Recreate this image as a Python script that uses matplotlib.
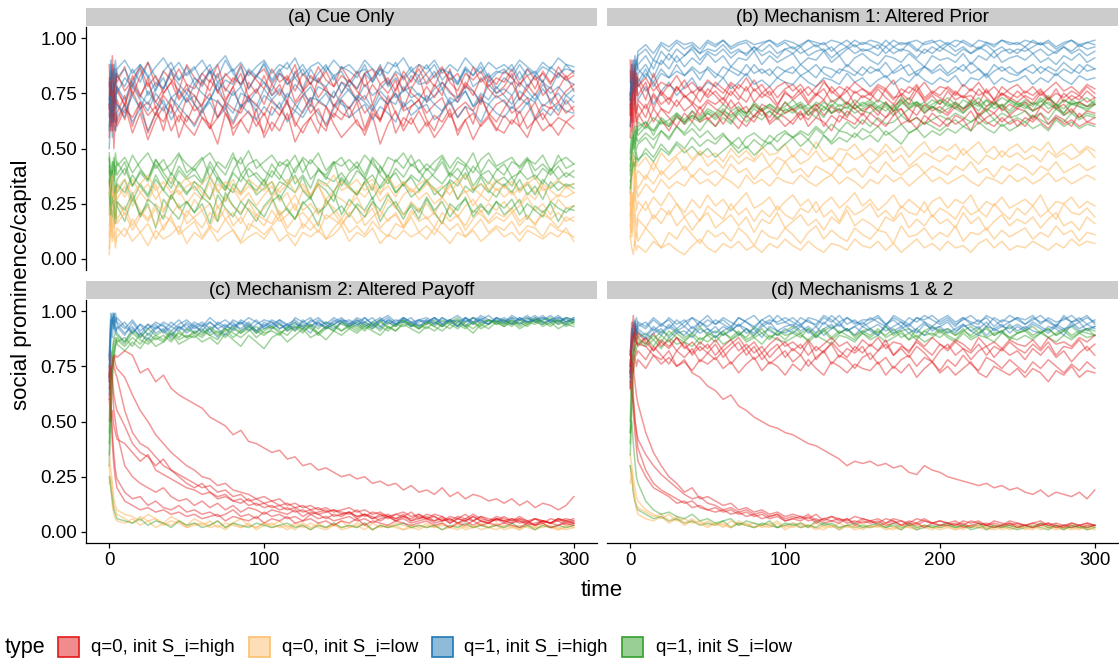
import numpy as np
import matplotlib
matplotlib.use("Agg")
import matplotlib.pyplot as plt
from matplotlib.patches import Rectangle

plt.rcParams['font.family'] = ['Liberation Sans', 'DejaVu Sans']

TIME = [0, 1, 2, 3, 4] + list(range(5, 301, 5))

TITLES = ["(a) Cue Only", "(b) Mechanism 1: Altered Prior",
          "(c) Mechanism 2: Altered Payoff", "(d) Mechanisms 1 & 2"]
TYPES = ["q=0, init S_i=high", "q=0, init S_i=low", "q=1, init S_i=high", "q=1, init S_i=low"]
COLORS = ["#E31A1C", "#FDBF6F", "#1F78B4", "#33A02C"]

# panel (a)
A_RED = [
    "72 85 64 80 70 | 78 69 83 74 80 71 77 86 73 79 | 70 81 76 84 72 78 68 80 75 83 | 74 79 71 85 77 69 82 76 73 80 | 78 72 84 70 79 75 81 68 77 83 | 71 79 74 86 73 80 76 70 82 75 | 78 84 72 79 74 81 70 77 83 76",
    "55 78 62 70 58 | 66 74 60 71 65 69 58 73 67 62 | 70 64 59 72 66 61 68 74 63 57 | 69 65 72 60 67 73 62 58 70 66 | 64 71 59 68 62 74 66 60 69 72 | 63 58 67 71 64 69 61 73 66 62 | 68 74 60 66 71 63 69 65 72 67",
    "80 60 72 50 66 | 62 70 57 66 54 63 69 58 65 60 | 56 64 61 52 66 59 63 57 68 55 | 62 58 66 53 60 64 57 69 61 55 | 59 63 56 65 52 61 67 58 64 57 | 62 55 60 66 58 63 54 61 65 59 | 57 63 60 55 64 58 61 56 62 59",
    "88 70 92 76 84 | 80 87 74 83 89 78 85 81 76 88 | 82 79 86 75 84 80 88 77 83 86 | 79 84 81 88 76 83 80 85 78 87 | 81 77 84 86 79 82 76 85 80 88 | 83 78 86 81 84 77 87 80 83 79 | 85 82 78 86 81 84 79 87 82 85",
    "65 74 58 79 68 | 72 63 76 68 71 65 74 69 62 73 | 67 70 75 64 71 68 66 73 70 65 | 72 68 63 70 74 66 71 69 64 72 | 68 73 66 70 63 71 75 67 69 72 | 66 70 73 64 68 71 67 74 65 70 | 72 66 69 73 64 70 68 71 66 69",
    "68 80 74 62 86 | 76 70 79 73 82 68 75 80 72 77 | 74 69 81 76 71 78 84 73 77 70 | 79 74 82 71 76 80 73 78 69 75 | 81 76 72 79 74 70 77 83 75 72 | 78 73 80 76 71 79 74 82 77 73 | 75 80 72 77 83 74 78 71 76 79",
    "70 58 76 63 72 | 60 68 64 71 57 66 62 70 55 65 | 61 68 59 64 70 56 63 67 60 66 | 58 65 71 62 57 64 68 60 66 63 | 69 61 58 66 63 70 57 64 61 67 | 60 65 62 68 56 63 66 60 64 58 | 65 61 67 59 63 66 60 64 62 65",
    "82 74 88 70 80 | 84 76 81 87 78 83 75 80 86 79 | 77 84 80 88 76 82 79 85 81 77 | 86 80 83 76 84 79 87 81 78 83 | 80 85 78 82 87 79 84 76 81 86 | 79 83 87 80 76 84 81 85 78 82 | 80 86 79 83 77 85 80 84 81 83",
]
A_ORANGE = [
    "20 35 28 22 32 | 27 33 24 30 26 34 22 29 31 25 | 30 27 35 23 28 32 26 30 24 29 | 33 26 30 22 31 28 34 25 29 27 | 24 31 28 33 26 30 23 29 32 27 | 30 25 28 34 27 31 24 29 26 32 | 28 31 25 30 27 33 26 29 28 30",
    "10 25 18 14 22 | 18 24 15 21 17 23 13 20 25 16 | 19 22 14 24 18 21 16 23 19 15 | 22 17 20 25 14 19 23 18 21 16 | 20 24 15 19 22 17 21 14 20 23 | 18 21 16 24 19 15 22 20 17 21 | 19 23 17 20 15 22 18 21 17 19",
    "02 15 08 12 05 | 10 14 08 12 06 13 09 11 15 07 | 12 09 14 08 11 13 07 10 12 09 | 14 08 11 06 12 10 13 09 11 15 | 08 12 10 14 07 11 09 13 10 12 | 09 14 11 07 12 10 13 08 11 14 | 10 12 08 13 11 09 12 10 14 08",
    "30 38 26 34 31 | 33 28 36 30 34 27 32 37 29 33 | 35 30 27 34 31 36 29 33 30 35 | 28 32 36 30 34 29 33 27 31 35 | 32 29 34 36 30 33 28 35 31 30 | 34 31 28 33 36 30 32 29 35 31 | 33 29 32 35 30 34 31 28 33 30",
    "15 22 10 18 25 | 16 21 13 19 24 15 20 17 12 22 | 18 14 21 17 23 15 19 13 20 18 | 16 22 14 19 21 17 12 20 18 15 | 21 16 19 23 14 18 20 15 22 17 | 19 14 21 17 20 13 18 22 16 19 | 17 21 15 19 16 20 18 14 19 17",
    "25 12 30 18 22 | 26 20 28 22 18 25 21 29 23 19 | 27 22 25 19 28 24 21 26 20 23 | 27 19 24 29 22 25 20 26 23 18 | 24 28 21 25 19 27 23 20 26 22 | 25 20 28 23 19 24 27 21 25 22 | 26 21 24 28 22 25 20 27 23 24",
    "05 18 12 20 08 | 14 10 18 12 16 09 15 19 11 14 | 17 10 15 12 18 13 08 16 14 11 | 15 19 12 10 16 13 17 09 14 18 | 12 15 11 17 13 10 16 14 19 12 | 15 11 17 13 16 10 14 18 12 15 | 13 17 11 15 14 10 16 13 12 10",
    "28 34 38 30 26 | 32 36 29 34 38 31 35 30 33 37 | 31 34 38 30 35 32 29 36 33 31 | 35 30 34 37 32 29 35 33 38 31 | 33 36 31 34 29 37 32 35 30 34 | 36 31 33 29 35 38 32 34 31 36 | 32 35 30 34 37 31 33 36 32 34",
]
A_BLUE = [
    "70 82 75 88 79 | 83 78 86 80 89 82 77 85 81 87 | 79 84 88 80 83 86 78 85 82 89 | 81 86 79 84 88 82 80 87 83 85 | 78 84 86 81 88 79 85 82 87 80 | 84 88 81 85 79 86 83 87 80 84 | 86 82 88 83 85 80 87 84 86 85",
    "60 72 55 68 76 | 70 64 78 72 67 75 70 66 77 71 | 74 68 72 79 70 66 75 73 69 77 | 72 76 70 67 74 78 71 75 69 73 | 77 71 74 68 76 72 70 78 73 75 | 71 74 77 70 73 76 69 75 72 78 | 74 70 76 73 71 77 72 75 70 74",
    "50 66 72 60 58 | 64 70 62 68 58 66 72 63 69 65 | 60 67 71 64 68 62 70 66 63 69 | 65 71 62 67 64 70 66 61 68 72 | 64 67 70 63 69 66 62 71 65 68 | 70 63 66 72 64 69 67 62 70 66 | 64 69 66 71 63 68 65 70 67 66",
    "78 88 72 84 90 | 82 86 79 88 83 76 85 89 81 84 | 87 80 85 82 90 84 79 86 83 88 | 80 85 89 82 86 79 84 88 81 87 | 85 82 88 80 86 84 89 81 85 83 | 88 82 86 84 80 87 83 89 82 85 | 84 88 81 86 83 87 85 82 88 84",
    "68 80 62 74 70 | 78 72 80 74 70 77 82 73 76 71 | 79 75 72 80 77 74 78 71 76 80 | 74 77 73 79 75 71 78 76 73 80 | 76 72 79 74 77 81 73 76 78 74 | 72 77 80 75 73 78 76 71 79 75 | 77 74 80 76 72 79 75 78 74 77",
    "64 76 84 70 80 | 75 82 78 86 74 80 77 84 79 75 | 82 78 85 76 81 79 87 77 83 80 | 76 84 79 82 77 86 80 78 83 75 | 81 77 84 80 86 78 82 76 83 79 | 80 85 77 82 79 86 78 81 84 77 | 82 79 85 78 83 80 77 84 81 79",
    "58 74 66 80 62 | 70 66 74 68 76 71 67 73 69 75 | 70 66 73 71 68 76 69 72 67 74 | 71 68 75 70 66 73 72 69 76 70 | 68 74 71 67 73 70 75 69 72 68 | 74 70 67 73 71 76 69 72 70 74 | 71 68 73 70 75 69 72 67 74 71",
    "72 90 82 86 78 | 86 90 84 88 82 87 91 85 89 83 | 86 90 84 88 92 85 89 83 87 90 | 84 88 86 91 83 87 89 85 90 86 | 88 84 90 86 83 89 87 91 85 88 | 86 90 84 88 85 91 87 84 89 86 | 88 85 90 87 84 89 86 91 88 87",
]
A_GREEN = [
    "45 30 40 35 42 | 38 44 33 40 36 45 39 34 42 37 | 41 35 44 38 32 40 46 37 39 35 | 43 38 34 41 45 36 40 38 44 33 | 39 42 36 45 38 34 41 37 43 40 | 35 39 44 37 41 36 42 38 34 40 | 43 37 39 45 36 41 38 42 37 40",
    "40 25 35 28 33 | 30 36 26 34 29 38 31 27 35 30 | 33 28 37 31 26 34 30 36 29 32 | 35 27 33 30 37 28 34 31 26 36 | 32 29 35 27 33 38 30 34 28 31 | 36 29 32 35 27 33 30 37 31 28 | 34 30 36 29 33 27 35 31 34 32",
    "30 15 22 18 28 | 24 17 28 20 25 14 27 22 18 26 | 21 25 16 29 23 19 26 22 17 24 | 28 20 23 18 26 22 15 27 21 24 | 19 25 22 28 17 23 26 20 24 18 | 27 21 16 25 22 28 19 24 21 26 | 20 23 27 18 24 21 25 17 23 22",
    "48 35 42 46 38 | 44 38 47 41 36 45 40 43 48 39 | 42 46 37 44 41 48 38 43 45 40 | 37 44 42 47 39 45 41 36 43 46 | 40 44 38 46 42 37 45 41 47 39 | 43 40 46 38 44 42 48 39 45 41 | 38 44 42 46 40 43 39 47 41 43",
    "36 28 40 32 26 | 34 30 38 33 28 36 31 39 34 29 | 35 32 27 37 33 30 38 34 31 36 | 29 35 33 38 31 27 36 34 30 37 | 33 29 35 38 32 36 30 34 37 31 | 35 32 28 36 33 39 31 34 30 35 | 33 37 31 34 29 36 32 35 33 34",
    "42 32 38 44 30 | 36 41 33 39 35 43 37 32 40 36 | 38 34 42 36 31 39 35 41 37 33 | 40 36 43 34 38 32 41 37 35 39 | 34 40 37 31 42 36 39 33 38 35 | 41 37 34 39 36 42 33 38 40 35 | 37 33 40 36 38 34 41 36 39 37",
    "35 20 28 24 16 | 26 22 30 19 27 24 18 29 23 26 | 21 28 25 17 30 24 20 27 23 19 | 26 29 22 18 25 28 21 24 30 20 | 27 23 19 26 22 29 24 18 25 21 | 28 22 26 19 24 27 21 25 20 26 | 23 27 20 25 22 19 26 23 21 24",
    "46 38 44 40 48 | 42 46 39 44 48 41 45 38 47 43 | 40 45 48 42 38 46 43 49 41 44 | 47 42 45 39 46 43 48 40 44 42 | 45 41 47 43 39 46 44 48 42 45 | 40 44 47 41 46 43 39 45 48 42 | 44 46 41 45 43 47 40 44 46 43",
]

# panel (b)
B_RED = [
    "90 65 82 70 78 | 74 80 68 76 72 78 74 70 77 73 | 76 72 79 74 71 77 73 76 70 75 | 73 77 71 75 72 78 74 70 76 73 | 75 71 77 73 74 70 76 72 75 73 | 71 76 73 74 70 77 72 75 73 71 | 74 72 76 73 70 75 72 74 71 73",
    "55 72 62 80 66 | 70 64 74 68 66 72 67 70 65 71 | 68 66 72 67 69 64 70 68 66 71 | 67 70 65 69 72 66 68 64 70 67 | 69 65 71 67 68 63 70 66 69 67 | 65 69 67 71 64 68 66 70 65 68 | 67 63 69 66 70 65 68 64 67 66",
    "80 88 75 85 78 | 82 76 80 74 79 76 81 75 78 74 | 80 77 74 79 76 81 75 78 73 77 | 79 75 78 74 80 76 73 78 75 77 | 74 78 76 72 77 75 79 73 76 74 | 78 75 73 77 74 76 72 78 75 73 | 76 74 77 72 75 73 76 74 78 75",
    "60 70 55 68 62 | 66 60 68 63 58 65 61 67 62 64 | 60 66 63 59 65 62 68 61 64 60 | 63 67 60 64 62 58 65 63 61 66 | 62 60 64 67 61 63 59 65 62 60 | 64 61 63 58 66 62 60 64 61 63 | 60 65 62 59 64 61 63 60 62 61",
    "75 62 85 70 66 | 72 68 75 70 73 69 74 71 68 72 | 70 73 68 71 66 70 67 64 69 66 | 68 63 67 70 65 69 66 71 68 65 | 70 67 64 69 72 68 65 70 67 69 | 66 71 68 70 65 69 72 67 70 68 | 71 67 69 73 68 70 66 71 69 70",
    "85 70 78 88 74 | 80 72 84 75 70 78 73 76 71 77 | 74 70 76 72 78 71 75 73 69 76 | 72 75 70 74 77 71 73 76 70 74 | 72 77 73 70 75 72 78 71 74 70 | 76 72 74 71 77 73 70 75 72 76 | 73 70 75 72 77 71 74 72 76 73",
    "70 58 66 74 60 | 64 70 62 68 64 60 66 62 69 63 | 66 61 67 63 60 65 68 62 66 64 | 61 66 63 68 60 65 62 67 64 61 | 66 63 60 65 68 62 64 61 66 63 | 60 65 63 67 61 64 66 62 65 60 | 64 62 66 61 65 63 60 66 62 64",
    "65 80 90 76 84 | 78 82 76 80 78 83 77 80 76 81 | 78 75 80 77 82 76 79 74 78 80 | 76 79 74 78 81 75 78 76 80 77 | 75 79 77 81 74 78 76 80 75 78 | 77 74 79 76 80 75 78 74 77 79 | 75 78 74 77 80 76 78 75 79 77",
]
B_ORANGE = [
    "20 35 45 30 38 | 40 36 44 38 42 46 40 44 48 42 | 45 41 47 43 46 44 48 42 46 44 | 47 43 45 49 44 46 42 48 45 47 | 43 46 49 44 47 42 45 48 46 44 | 47 45 50 46 43 47 45 49 46 48 | 45 47 44 49 46 48 45 47 50 46",
    "25 18 30 22 15 | 20 26 18 23 20 25 19 22 17 24 | 21 18 25 20 23 17 22 19 24 20 | 18 23 21 26 19 22 17 24 20 22 | 25 19 22 18 24 21 20 26 19 23 | 21 18 24 20 22 19 25 21 18 23 | 20 24 19 22 18 25 21 20 23 19",
    "15 30 25 40 35 | 32 38 34 40 36 39 42 37 41 38 | 40 37 43 39 41 36 40 42 38 44 | 39 41 37 42 40 38 43 39 41 37 | 42 39 44 40 38 41 43 39 42 40 | 38 42 40 44 39 41 37 42 40 43 | 41 38 42 40 44 39 41 43 40 42",
    "15 10 20 06 12 | 08 14 10 05 12 09 15 11 07 13 | 10 12 08 14 11 06 13 10 09 14 | 11 07 12 15 09 13 10 08 14 11 | 09 13 12 07 15 10 11 14 09 12 | 10 15 08 12 11 14 09 13 10 12 | 14 09 12 10 15 11 13 08 12 11",
    "10 22 30 26 33 | 28 34 30 36 32 35 33 38 34 36 | 33 37 35 32 38 34 36 33 37 35 | 34 38 35 33 36 38 34 37 35 32 | 36 34 38 35 37 33 36 39 35 37 | 34 36 38 35 33 37 36 34 38 35 | 37 34 36 39 35 37 34 36 38 36",
    "10 05 02 08 04 | 06 03 08 05 07 04 02 06 09 05 | 03 07 05 08 04 06 03 07 05 09 | 06 04 08 05 03 07 06 04 09 06 | 05 08 04 07 03 06 09 05 07 04 | 08 05 06 03 07 09 05 08 04 06 | 05 08 06 04 07 05 09 06 08 07",
    "25 40 48 36 44 | 42 46 40 48 44 47 50 45 49 46 | 48 44 50 46 49 45 51 47 48 52 | 46 50 47 53 48 45 50 49 52 47 | 50 47 52 48 51 46 50 53 48 51 | 49 52 47 50 53 48 51 46 50 52 | 48 51 49 53 47 50 52 48 51 49",
    "20 12 25 16 10 | 18 14 20 16 22 15 19 13 18 21 | 14 17 20 15 19 12 18 16 21 14 | 17 20 15 18 13 19 16 22 15 18 | 16 13 19 17 21 14 18 15 20 16 | 18 14 21 16 19 13 17 20 15 18 | 16 19 14 18 21 15 17 13 19 16",
    "30 20 28 35 22 | 26 22 28 24 30 25 21 27 23 29 | 24 27 22 26 30 23 25 28 22 26 | 29 24 27 21 25 28 23 26 30 24 | 27 22 25 29 23 27 24 21 26 28 | 23 27 25 29 22 26 24 28 23 25 | 27 24 29 22 26 25 28 23 26 24",
]
B_BLUE = [
    "70 85 78 90 86 | 92 95 90 97 94 98 95 97 93 98 | 96 99 95 97 98 94 97 99 96 98 | 95 97 99 96 98 94 97 99 96 98 | 97 95 99 96 98 97 94 98 99 96 | 98 96 99 97 95 98 96 99 97 98 | 96 99 97 98 95 97 99 96 98 97",
    "65 80 72 86 78 | 84 88 82 90 86 92 87 91 88 93 | 89 92 87 91 90 94 88 92 89 91 | 93 88 91 90 94 89 92 87 91 93 | 90 88 92 91 89 93 90 87 92 90 | 91 89 93 88 92 90 94 89 91 92 | 90 93 89 91 88 92 90 93 89 91",
    "75 70 82 76 84 | 80 86 78 84 82 88 83 86 81 87 | 84 82 87 85 83 88 84 86 82 85 | 87 83 85 88 84 82 86 85 83 87 | 84 86 82 85 88 83 85 87 84 86 | 83 85 88 84 86 82 85 87 84 83 | 86 84 87 85 83 86 84 88 85 86",
    "60 78 68 74 80 | 72 78 70 76 80 74 78 82 76 80 | 78 82 77 80 84 79 81 78 82 80 | 79 83 80 78 82 81 79 84 80 82 | 78 81 83 79 82 80 84 81 79 82 | 80 83 78 82 81 84 79 82 80 81 | 83 79 82 80 84 81 79 83 81 82",
    "72 88 80 84 90 | 86 82 90 88 93 89 92 95 90 94 | 92 95 91 94 93 96 92 94 91 95 | 93 96 92 94 95 91 94 96 93 95 | 94 92 96 93 95 94 91 95 93 96 | 94 92 95 93 96 94 91 94 95 93 | 96 93 95 92 94 96 93 95 92 94",
    "68 82 76 88 84 | 88 92 86 94 90 95 92 96 93 95 | 94 97 93 95 92 96 94 97 93 95 | 96 93 95 97 94 96 92 95 97 94 | 95 97 93 96 94 98 95 93 96 94 | 97 94 96 93 95 97 94 96 93 95 | 94 96 98 95 93 96 94 97 95 96",
    "72 76 84 78 82 | 78 84 80 86 82 85 83 87 84 86 | 82 87 85 83 88 84 86 83 87 85 | 84 88 85 82 87 86 84 88 85 83 | 87 85 89 84 86 88 83 87 85 88 | 84 87 85 89 86 83 88 85 87 84 | 86 88 84 87 85 89 86 84 88 86",
    "74 90 84 92 88 | 94 97 93 98 96 99 97 98 95 99 | 97 99 96 98 99 97 98 99 97 99 | 98 96 99 98 97 99 98 96 99 97 | 99 98 96 99 97 98 99 97 98 99 | 97 99 98 96 99 98 97 99 98 97 | 99 98 97 99 96 98 99 97 98 99",
]
B_GREEN = [
    "40 50 55 52 58 | 56 60 58 62 60 64 62 65 63 66 | 64 67 65 68 66 69 67 70 68 67 | 69 71 68 70 67 72 69 71 68 70 | 72 69 71 67 70 73 69 71 68 72 | 70 68 72 70 73 69 71 68 72 70 | 71 69 73 70 68 72 70 71 69 72",
    "30 42 48 45 50 | 52 55 50 58 54 60 57 62 58 63 | 60 64 61 66 62 65 63 67 64 66 | 68 65 67 64 69 66 68 65 70 67 | 66 69 67 70 65 68 71 67 69 66 | 68 70 66 69 71 67 70 68 66 69 | 70 67 69 71 68 66 70 69 67 70",
    "35 38 45 40 48 | 44 50 46 52 48 53 50 55 51 54 | 52 56 53 50 55 57 54 52 56 58 | 55 57 54 59 56 53 58 57 55 59 | 57 60 56 58 61 57 59 62 60 58 | 61 63 60 62 64 61 63 60 62 64 | 62 65 63 61 64 62 66 63 65 64",
    "45 55 50 58 54 | 60 62 58 64 61 66 63 67 64 68 | 66 70 67 69 65 71 68 70 67 69 | 72 68 70 67 71 69 73 70 68 71 | 69 72 70 68 73 70 71 69 72 70 | 73 70 68 71 69 72 70 73 71 69 | 72 70 71 74 69 72 70 71 73 70",
    "38 46 52 48 55 | 53 57 54 58 55 60 56 59 55 58 | 54 57 52 55 50 54 51 56 53 57 | 55 58 56 60 57 61 58 62 59 63 | 60 64 61 62 65 62 64 61 63 65 | 63 66 64 62 65 67 63 66 64 65 | 67 64 66 63 68 65 67 64 66 65",
    "42 48 56 50 60 | 58 62 56 63 60 65 61 64 62 66 | 63 66 62 67 64 68 65 67 63 68 | 66 69 65 68 64 70 67 69 66 68 | 70 67 69 65 71 68 70 66 69 67 | 71 68 66 70 67 72 68 70 67 71 | 69 67 72 68 70 66 71 69 68 70",
    "32 40 44 42 46 | 45 48 44 50 47 52 48 51 47 50 | 46 49 52 48 51 47 50 53 49 52 | 55 51 54 50 56 52 55 53 57 54 | 56 53 58 55 52 57 59 55 58 56 | 59 57 60 58 62 59 57 61 58 60 | 62 59 61 58 63 60 62 59 61 60",
    "48 58 54 60 57 | 62 59 64 61 63 66 62 65 63 67 | 65 68 64 67 66 70 67 69 66 71 | 68 70 67 71 69 66 70 68 72 69 | 71 68 70 67 72 69 71 68 70 72 | 69 71 68 72 70 67 71 69 72 70 | 68 71 69 73 70 68 72 70 69 71",
]

# panel (c)
C_RED = [
    "75 60 45 35 28 | 24 18 15 16 12 14 11 10 12 09 | 10 08 09 07 08 10 07 08 06 09 | 07 08 06 07 05 08 06 07 05 06 | 07 05 06 04 06 07 05 06 04 05 | 06 04 05 06 04 05 03 05 04 06 | 05 04 05 03 04 05 04 03 05 04",
    "80 72 65 55 50 | 45 30 25 22 20 18 20 16 14 15 | 12 14 11 13 10 12 09 11 10 08 | 10 09 08 10 07 09 08 06 08 07 | 09 06 08 07 05 07 06 08 05 07 | 06 05 07 04 06 05 07 05 04 06 | 05 06 04 05 03 05 04 06 04 05",
    "70 82 78 75 72 | 70 55 45 40 38 34 30 28 25 22 | 20 22 18 16 17 14 15 12 13 11 | 12 10 11 09 10 08 09 10 07 08 | 09 07 08 06 07 08 06 07 05 06 | 07 05 06 04 06 05 07 05 04 06 | 05 04 06 05 03 05 04 05 03 04",
    "65 72 78 80 76 | 74 70 62 55 50 44 40 36 33 30 | 28 25 24 21 22 19 18 17 15 16 | 14 15 12 13 11 12 10 11 09 10 | 11 09 10 08 09 07 08 09 07 08 | 06 08 07 05 07 06 08 06 05 07 | 06 05 07 05 06 04 06 05 06 05",
    "60 50 55 48 45 | 42 40 36 32 35 28 26 24 22 20 | 19 17 18 15 16 14 13 15 12 13 | 11 12 10 11 09 10 08 09 10 08 | 09 07 08 06 08 07 05 07 06 08 | 06 07 05 06 04 06 05 07 05 06 | 04 06 05 04 06 05 04 06 05 04",
    "60 70 75 78 80 | 79 82 80 72 74 68 71 65 62 60 | 58 56 52 50 48 44 46 41 40 38 | 36 37 33 34 30 31 28 29 27 25 | 26 24 25 22 23 21 22 19 21 18 | 19 17 20 16 18 15 17 16 14 15 | 13 15 12 14 11 13 12 10 12 16",
    "72 58 40 30 24 | 20 14 12 10 11 09 10 08 09 07 | 08 06 07 08 05 07 06 05 07 04 | 06 05 07 04 05 06 04 05 03 05 | 04 06 03 05 04 03 05 04 03 04 | 05 03 04 02 04 03 05 03 04 03 | 04 03 02 04 03 04 02 03 04 03",
    "68 75 70 62 58 | 55 48 40 36 34 30 33 28 26 24 | 22 20 21 18 19 16 17 14 15 13 | 14 12 13 11 12 10 11 09 10 09 | 08 10 07 09 08 06 08 07 09 06 | 08 07 05 07 06 08 05 07 06 05 | 07 05 06 04 06 05 04 06 05 06",
]
C_ORANGE = [
    "30 20 12 08 06 | 05 04 06 03 05 02 04 03 05 02 | 03 04 02 03 01 04 02 03 02 04 | 02 03 01 03 02 04 02 01 03 02 | 03 02 04 01 03 02 03 01 02 03 | 02 03 01 02 04 02 03 01 02 03 | 01 02 03 02 01 03 02 02 01 02",
    "22 25 18 12 10 | 08 06 04 07 05 06 03 05 04 02 | 04 03 05 02 04 03 02 04 01 03 | 04 02 03 01 04 02 03 02 04 01 | 02 03 01 04 02 03 02 01 03 02 | 04 02 03 02 01 03 02 04 02 01 | 03 02 01 03 02 02 03 01 02 03",
    "35 28 22 15 12 | 10 08 07 05 08 06 04 07 05 03 | 06 04 03 05 02 04 06 03 02 04 | 03 05 02 04 03 01 04 02 03 05 | 02 04 03 01 03 02 04 03 02 01 | 03 02 04 02 03 01 02 03 02 04 | 02 03 01 03 02 04 02 01 03 02",
]
C_BLUE = [
    "70 95 99 92 97 | 94 90 93 88 92 94 90 93 91 95 | 92 94 90 95 93 92 96 94 91 95 | 93 96 94 92 95 97 93 95 94 96 | 95 93 97 94 96 95 93 97 95 96 | 94 97 95 96 93 97 95 98 96 95 | 97 95 96 98 95 97 96 94 97 96",
    "62 88 96 99 93 | 90 86 92 89 94 90 92 88 93 91 | 94 90 92 88 93 95 91 93 90 94 | 92 95 91 94 93 90 95 92 96 94 | 93 96 94 92 95 97 94 96 93 95 | 96 94 97 95 93 96 94 97 95 96 | 94 97 96 95 97 94 96 98 95 96",
    "80 99 94 97 99 | 95 92 96 91 94 92 95 93 96 92 | 95 93 97 94 92 96 94 97 95 93 | 96 94 92 97 95 93 96 94 97 95 | 94 97 95 93 96 98 95 97 94 96 | 97 95 93 96 98 95 97 96 94 97 | 95 98 96 97 95 96 98 95 97 96",
    "75 92 88 96 91 | 93 89 95 90 87 92 94 89 93 90 | 93 91 95 92 89 94 92 95 91 93 | 95 92 94 91 96 93 95 92 94 96 | 93 95 97 94 92 96 94 95 97 93 | 95 97 94 96 93 97 95 96 94 97 | 96 94 97 95 96 98 95 97 96 95",
    "68 90 97 94 90 | 92 95 90 94 89 93 91 95 92 94 | 90 93 95 92 94 91 95 93 96 92 | 94 96 93 95 92 96 94 93 95 97 | 94 96 93 95 97 94 96 95 93 96 | 95 97 94 96 95 97 94 96 98 95 | 96 94 97 95 96 97 95 96 94 97",
    "78 96 92 99 95 | 97 93 90 94 92 95 93 91 94 96 | 93 95 92 94 96 93 95 91 94 96 | 95 92 94 96 93 95 97 94 92 95 | 96 94 95 97 93 96 94 97 95 93 | 96 94 97 95 96 93 97 95 94 97 | 95 97 94 96 98 95 96 97 95 97",
]
C_GREEN = [
    "40 60 75 82 85 | 87 84 88 85 90 87 89 86 91 88 | 90 92 89 91 88 92 90 93 91 89 | 92 94 91 93 90 94 92 95 93 91 | 94 92 95 93 96 92 94 93 95 92 | 95 93 96 94 92 95 97 94 96 95 | 93 96 94 97 95 94 96 95 97 94",
    "30 52 68 78 84 | 86 88 84 90 86 89 91 87 90 88 | 91 89 93 90 92 88 91 94 90 92 | 93 90 92 95 91 93 89 92 94 91 | 93 95 92 94 91 95 93 96 94 92 | 94 96 93 95 97 94 92 95 96 94 | 95 93 96 94 97 95 93 96 94 95",
    "45 65 80 86 88 | 85 82 86 83 88 84 86 90 85 87 | 89 86 88 85 90 87 84 89 86 83 | 88 90 86 89 92 88 90 87 91 89 | 92 90 93 91 89 93 91 94 92 90 | 93 91 94 92 95 93 90 94 92 95 | 93 95 92 94 96 93 95 92 94 93",
    "25 20 15 10 08 | 06 05 04 06 03 05 04 02 05 03 | 04 02 03 05 02 04 03 02 04 03 | 02 03 04 02 03 01 03 02 04 02 | 03 02 04 01 03 02 03 04 02 03 | 02 03 01 03 02 04 02 03 02 03 | 02 04 02 03 01 03 02 03 02 03",
    "35 58 72 80 86 | 88 85 90 87 85 88 86 90 87 89 | 88 91 89 87 92 90 88 91 93 90 | 91 89 93 91 94 92 90 93 91 95 | 92 94 91 95 93 91 94 96 93 94 | 92 95 93 96 94 92 95 93 96 94 | 96 94 95 93 96 95 94 96 93 95",
    "50 70 82 88 90 | 89 86 91 88 92 89 87 91 88 92 | 90 88 92 89 91 93 90 92 88 91 | 93 91 89 93 92 94 90 93 91 95 | 93 91 94 92 95 93 91 95 94 92 | 95 93 91 94 96 93 95 92 94 96 | 94 96 93 95 94 96 97 94 95 96",
]

# panel (d)
D_RED = [
    "70 90 98 86 92 | 88 85 90 84 87 82 86 80 84 81 | 85 79 83 86 80 84 78 82 85 79 | 83 80 86 78 82 85 79 83 81 84 | 78 82 85 80 83 79 84 81 77 82 | 85 80 83 78 82 84 79 83 80 82 | 78 83 80 84 79 82 77 81 84 80",
    "78 70 55 45 38 | 32 25 20 18 16 13 14 11 12 10 | 09 10 08 09 07 08 06 07 08 05 | 06 07 05 06 04 05 06 04 05 04 | 05 03 04 05 03 04 03 05 04 03 | 04 03 04 02 03 04 03 02 04 03 | 03 02 04 03 02 03 03 02 03 03",
    "75 82 78 85 80 | 82 78 84 80 76 82 79 83 77 81 | 78 82 76 80 83 78 81 76 79 82 | 77 80 75 79 82 76 80 78 74 79 | 81 76 79 74 78 80 75 79 77 73 | 78 75 80 76 73 79 77 74 78 75 | 72 77 74 78 75 72 76 73 77 74",
    "72 80 74 68 62 | 58 45 36 30 25 22 18 20 15 16 | 14 12 13 10 11 09 10 08 09 07 | 08 07 06 08 05 07 06 05 07 06 | 05 06 04 06 05 04 06 05 04 05 | 04 05 03 05 04 03 05 04 03 04 | 03 04 05 03 04 03 04 03 04 03",
    "80 95 88 92 85 | 90 86 82 87 84 88 83 86 82 85 | 80 84 87 82 85 81 84 79 83 86 | 82 85 80 84 81 86 82 79 84 81 | 85 82 87 80 84 82 86 83 80 85 | 82 86 83 81 85 80 84 82 86 83 | 81 85 82 86 80 84 83 87 82 85",
    "68 62 58 50 46 | 42 35 30 26 23 20 17 15 16 13 | 12 10 11 09 10 08 09 07 08 06 | 07 06 08 05 06 07 05 06 04 06 | 05 04 06 05 03 05 04 06 04 05 | 04 03 05 04 05 03 04 03 05 04 | 03 04 03 04 03 02 04 03 04 03",
    "65 78 72 80 75 | 78 74 80 76 79 75 77 73 78 76 | 79 74 77 72 76 79 73 77 75 71 | 76 73 78 74 71 77 75 72 76 74 | 73 77 71 75 72 76 70 74 77 72 | 75 71 74 77 72 70 75 73 71 74 | 70 74 72 68 73 71 75 70 73 72",
    "75 85 90 88 86 | 85 84 80 78 82 75 78 72 70 66 | 64 60 62 57 55 52 50 48 47 45 | 44 42 40 39 37 35 33 30 32 31 | 32 30 31 29 30 27 26 30 28 27 | 25 24 23 22 21 22 20 21 19 20 | 18 17 19 16 18 17 16 18 15 19",
    "72 88 82 94 86 | 84 88 82 86 83 88 84 81 86 83 | 87 82 85 88 83 86 81 85 88 84 | 86 83 87 82 85 88 84 86 82 87 | 84 88 83 86 85 81 87 84 88 85 | 83 87 85 82 88 84 86 83 87 85 | 84 87 83 88 85 86 84 88 86 89",
    "82 75 62 52 44 | 38 28 22 19 17 15 13 14 11 10 | 11 09 10 08 09 07 08 06 07 05 | 06 05 07 04 06 05 04 06 03 05 | 04 05 03 04 05 03 04 02 04 03 | 03 04 02 03 04 03 02 03 04 02 | 03 02 03 04 02 03 02 03 02 03",
]
D_ORANGE = [
    "30 25 18 14 10 | 08 06 05 07 04 06 03 05 04 02 | 04 03 02 04 03 02 03 02 04 01 | 03 02 03 02 01 03 02 03 01 02 | 02 03 01 02 03 02 01 03 02 02 | 03 01 02 03 02 01 02 03 01 02 | 02 01 03 02 01 02 02 01 03 02",
    "35 30 24 20 16 | 14 10 08 06 08 05 06 04 05 03 | 04 02 05 03 04 02 03 04 02 03 | 02 04 03 01 03 02 04 02 03 01 | 03 02 04 02 01 03 02 03 02 01 | 02 03 01 03 02 02 03 01 02 03 | 01 02 03 02 02 01 03 02 01 02",
    "22 28 20 15 12 | 11 09 07 08 05 07 04 06 03 05 | 03 04 02 05 03 04 02 03 05 02 | 04 03 02 04 02 03 01 03 02 04 | 02 03 02 01 03 02 04 02 01 03 | 02 01 03 02 03 02 01 02 03 02 | 02 03 01 02 03 02 01 02 02 01",
]
D_BLUE = [
    "75 88 95 92 97 | 94 92 96 93 97 94 96 92 95 98 | 94 96 93 97 95 92 96 94 98 95 | 93 97 95 94 98 96 93 97 95 94 | 97 95 93 98 96 94 97 95 93 96 | 98 95 97 94 96 93 97 95 98 96 | 94 97 95 96 93 98 95 97 94 96",
    "65 82 90 86 92 | 90 88 92 89 93 90 91 88 92 90 | 93 89 91 94 90 92 88 93 91 90 | 92 94 90 93 89 92 95 91 93 90 | 92 89 94 91 93 90 92 95 91 93 | 90 92 94 91 93 89 92 94 90 93 | 91 94 92 90 93 91 95 92 94 92",
    "80 92 86 95 90 | 93 95 91 94 96 92 95 97 93 96 | 94 97 95 93 96 98 94 96 95 97 | 95 93 97 96 94 98 95 97 94 96 | 96 98 94 97 95 93 97 96 98 95 | 97 94 96 98 95 97 93 96 95 97 | 96 98 94 97 95 96 98 95 97 95",
    "70 85 88 93 89 | 91 87 90 92 88 91 89 93 90 92 | 88 91 93 89 92 90 94 91 89 92 | 90 93 91 88 92 94 90 92 89 93 | 91 89 93 90 92 94 91 89 93 91 | 92 90 94 91 89 93 92 90 94 91 | 93 91 90 93 92 89 94 91 92 93",
    "72 90 93 96 91 | 95 93 97 94 92 96 93 97 95 93 | 96 94 92 97 95 93 96 98 94 95 | 97 94 96 93 97 95 98 94 96 93 | 95 97 94 96 93 97 95 98 96 94 | 96 93 97 95 94 98 96 93 95 97 | 94 96 98 95 93 97 95 96 98 94",
    "68 86 92 89 94 | 92 89 93 90 94 91 93 90 95 92 | 90 93 91 94 92 89 93 95 91 93 | 94 91 93 90 95 92 94 91 93 95 | 92 94 91 93 95 92 90 94 92 93 | 95 91 93 94 92 95 91 93 92 94 | 92 95 93 91 94 92 93 95 91 93",
]
D_GREEN = [
    "45 70 80 84 86 | 85 88 84 89 86 90 87 89 85 90 | 88 91 87 89 92 88 90 87 91 89 | 90 88 92 89 91 87 90 92 88 91 | 89 92 88 90 91 87 92 89 90 88 | 91 89 92 88 90 93 89 91 88 90 | 92 89 91 88 90 92 89 91 90 89",
    "30 25 18 14 12 | 10 08 06 07 05 06 04 05 03 04 | 03 05 02 04 03 02 04 03 02 03 | 04 02 03 02 04 03 01 03 02 03 | 02 03 02 04 02 03 01 02 03 02 | 03 02 03 01 02 03 02 03 02 01 | 02 03 02 01 03 02 02 03 01 02",
    "35 55 72 80 83 | 86 84 87 83 88 85 86 84 88 86 | 89 85 87 90 86 88 85 89 87 86 | 88 90 86 89 87 85 89 88 86 90 | 87 89 86 88 90 87 89 86 88 91 | 88 86 90 87 89 88 86 90 88 87 | 89 87 90 88 86 89 87 90 88 89",
    "45 50 40 32 25 | 22 14 10 08 09 07 06 08 05 06 | 04 05 06 03 05 04 03 05 02 04 | 03 04 02 05 03 04 02 03 04 02 | 03 04 02 03 01 04 02 03 02 03 | 04 02 03 02 04 01 03 02 03 02 | 03 02 04 02 03 01 03 02 02 03",
    "50 75 85 88 90 | 88 90 87 91 89 92 88 90 93 89 | 91 89 92 90 88 93 90 92 89 91 | 93 90 92 88 91 93 90 92 89 91 | 92 90 93 89 91 92 88 91 93 90 | 92 89 91 93 90 92 89 91 93 90 | 91 93 90 92 89 91 93 90 92 91",
    "40 62 78 86 88 | 87 85 89 86 91 88 86 90 87 89 | 86 90 88 91 87 89 92 88 90 87 | 91 89 87 90 92 88 91 89 87 90 | 88 91 89 92 88 90 87 91 89 92 | 89 87 91 89 92 88 90 91 87 90 | 91 88 90 92 89 91 88 90 92 89",
]

PANELS = [
    [A_RED, A_ORANGE, A_BLUE, A_GREEN],
    [B_RED, B_ORANGE, B_BLUE, B_GREEN],
    [C_RED, C_ORANGE, C_BLUE, C_GREEN],
    [D_RED, D_ORANGE, D_BLUE, D_GREEN],
]


def parse(s):
    vals = np.array(s.replace('|', ' ').split(), dtype=float) / 100.0
    if len(vals) != len(TIME):
        raise ValueError("bad run length %d: %s" % (len(vals), s[:30]))
    return vals


W, H = 1119, 665
fig = plt.figure(figsize=(W / 100, H / 100), dpi=100)


def px_axes(left, top, right, bottom):
    return fig.add_axes([left / W, 1 - bottom / H, (right - left) / W, (bottom - top) / H])


# panel boxes in pixels: (left, top, right, bottom)
cols = [(86, 597), (607, 1118)]
rows = [(27, 270), (300, 543)]
strip_rows = [(8, 26), (281, 299)]

t = np.array(TIME)
for k in range(4):
    r, c = divmod(k, 2)
    l, rr = cols[c]
    top, bot = rows[r]
    ax = px_axes(l, top, rr, bot)

    groups = [[parse(s) for s in g] for g in PANELS[k]]
    n = max(len(g) for g in groups)
    # interleave runs so no colour sits fully on top
    for i in range(n):
        for j, g in enumerate(groups):
            if i < len(g):
                ax.plot(t, g[i], color=COLORS[j], lw=1.1,
                        alpha=0.6 if j == 1 else 0.45, solid_joinstyle='round')

    ax.set_xlim(-15, 315)
    ax.set_ylim(-0.05, 1.05)
    for s in ['top', 'right']:
        ax.spines[s].set_visible(False)
    ax.spines['left'].set_visible(c == 0)
    ax.spines['bottom'].set_visible(r == 1)
    ax.spines['left'].set_linewidth(0.9)
    ax.spines['bottom'].set_linewidth(0.9)
    ax.set_yticks([0, 0.25, 0.5, 0.75, 1.0])
    ax.set_xticks([0, 100, 200, 300])
    ax.tick_params(axis='both', length=3.5, width=0.9, labelsize=13.5,
                   colors='black', pad=3)
    if c == 0:
        ax.set_yticklabels(["0.00", "0.25", "0.50", "0.75", "1.00"])
    else:
        ax.tick_params(axis='y', left=False, labelleft=False)
    if r == 0:
        ax.tick_params(axis='x', bottom=False, labelbottom=False)

    # facet strip
    st, sb = strip_rows[r]
    sax = px_axes(l, st, rr, sb)
    sax.set_facecolor('#CCCCCC')
    sax.set_xticks([])
    sax.set_yticks([])
    for s in sax.spines.values():
        s.set_visible(False)
    sax.text(0.5, 0.45, TITLES[k], ha='center', va='center', fontsize=13.5,
             transform=sax.transAxes)

# axis titles
fig.text(602 / W, 1 - 590 / H, "time", ha='center', va='center', fontsize=16)
fig.text(22 / W, 1 - 285 / H, "social prominence/capital", ha='center', va='center',
         rotation=90, fontsize=16)

# legend at the bottom
fig.text(5 / W, 1 - 647 / H, "type", ha='left', va='center', fontsize=15.5)
key_x = [58, 249, 432, 622]
lab_x = [91, 282, 464, 656]
for j in range(4):
    fig.patches.append(Rectangle((key_x[j] / W, 1 - 657 / H), 21 / W, 20 / H,
                                 transform=fig.transFigure, facecolor=COLORS[j],
                                 alpha=0.5, edgecolor='none'))
    fig.patches.append(Rectangle((key_x[j] / W, 1 - 657 / H), 21 / W, 20 / H,
                                 transform=fig.transFigure, facecolor='none',
                                 edgecolor=COLORS[j], lw=1.2))
    fig.text(lab_x[j] / W, 1 - 647 / H, TYPES[j], ha='left', va='center', fontsize=13.4)

fig.savefig("out.png", dpi=100)
